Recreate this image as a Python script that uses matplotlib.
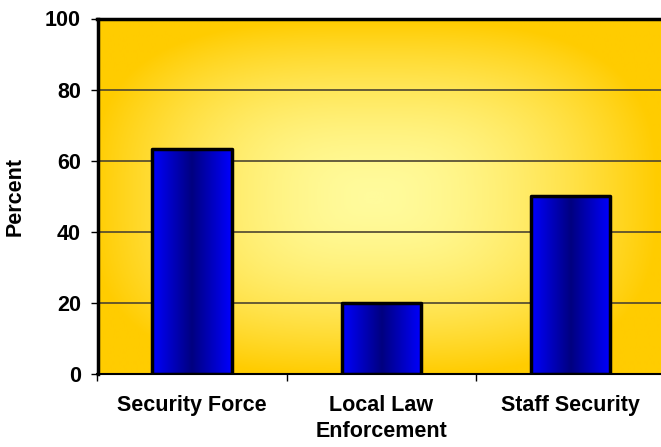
import numpy as np
import matplotlib
matplotlib.use("Agg")
import matplotlib.pyplot as plt
from matplotlib.colors import LinearSegmentedColormap

categories = ["Security Force", "Local Law\nEnforcement", "Staff Security"]
percent = [63.3, 20, 50]
y_ticks = [0, 20, 40, 60, 80, 100]

plt.rcParams['font.family'] = ['Liberation Sans', 'DejaVu Sans']
plt.rcParams['font.weight'] = 'bold'

fig = plt.figure(figsize=(6.61, 4.47), dpi=100)
ax = fig.add_axes([97.5 / 661, 1 - 374 / 447, (665 - 97.5) / 661, (374 - 18.5) / 447])

x = np.arange(len(categories))
x_lo, x_hi = -0.5, len(categories) - 0.5

# gold background, pale in the middle
bg_cmap = LinearSegmentedColormap.from_list("bg", ["#FFFB9C", "#FFCC00"])
gx, gy = np.meshgrid(np.linspace(0, 1, 400), np.linspace(0, 1, 300))
p = 3
dist = ((np.abs(gx - 0.487) / 0.5) ** p + (np.abs(gy - 0.496) / 0.5) ** p) ** (1 / p)
ax.imshow(np.clip(dist, 0, 1) ** 1.7, cmap=bg_cmap, extent=[x_lo, x_hi, 0, 100],
          origin='lower', aspect='auto', zorder=0, interpolation='bilinear')

ax.yaxis.grid(True, color='#4d4530', linewidth=1.2)
ax.set_axisbelow(True)

# bars: blue -> navy -> blue fill, black outline
bars = ax.bar(x, percent, width=0.42, facecolor='none', edgecolor='black',
              linewidth=2.5, zorder=3, joinstyle='round')
bar_cmap = LinearSegmentedColormap.from_list("bar", ["#0000FF", "#000080", "#0000FF"])
for b in bars:
    im = ax.imshow(np.linspace(0, 1, 256).reshape(1, -1), cmap=bar_cmap,
                   extent=[b.get_x(), b.get_x() + b.get_width(), 0, b.get_height()],
                   aspect='auto', zorder=2.5, interpolation='bilinear')
    im.set_clip_path(b)

ax.set_xlim(x_lo, x_hi)
ax.set_ylim(0, 100)

ax.set_yticks(y_ticks)
ax.tick_params(axis='y', direction='out', length=5, width=1, pad=7, labelsize=15.5)

ax.set_xticks([-0.5, 0.5, 1.5])
ax.set_xticklabels([])
ax.set_xticks(x, minor=True)
ax.set_xticklabels(categories, minor=True, fontsize=15.5, fontweight='bold',
                   linespacing=1.35)
ax.tick_params(axis='x', which='major', direction='out', length=5, width=1)
ax.tick_params(axis='x', which='minor', length=0, pad=15)

ax.set_ylabel("Percent", fontsize=15.5, fontweight='bold', labelpad=14)

for side in ['top', 'left']:
    ax.spines[side].set_linewidth(2.5)
ax.spines['bottom'].set_linewidth(1.5)
ax.spines['right'].set_visible(False)

fig.savefig("out.png", dpi=100)
